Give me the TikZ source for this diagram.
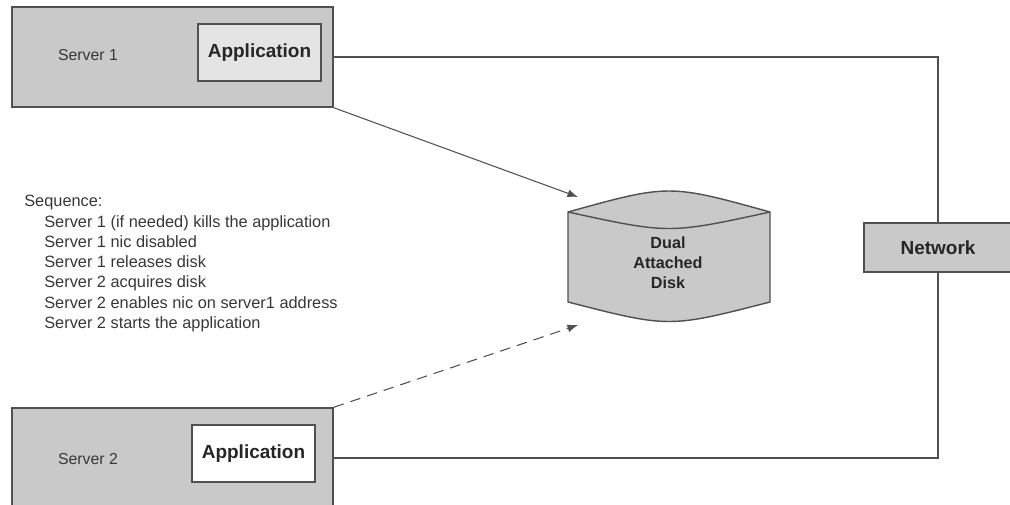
\documentclass[tikz,border=0pt]{standalone}
\usepackage{fontspec}
\setmainfont{Liberation Sans}
\usepackage{xcolor}
\usetikzlibrary{arrows.meta}
\definecolor{boxgray}{RGB}{201,201,201}
\definecolor{appgray}{RGB}{228,228,228}
\definecolor{linegray}{RGB}{80,80,80}
\definecolor{textgray}{RGB}{55,55,55}

\begin{document}
\begin{tikzpicture}[x=0.02cm, y=-0.02cm,
    server/.style={draw=linegray, line width=0.8pt, fill=boxgray, inner sep=0,
        minimum width=6.42cm, minimum height=2cm},
    appbox/.style={draw=linegray, line width=0.8pt, inner sep=0,
        minimum width=2.46cm, minimum height=1.14cm,
        font=\bfseries\fontsize{10.8}{13}\selectfont, text=black!85},
    label/.style={font=\fontsize{9}{11}\selectfont, text=textgray, inner sep=0},
    link/.style={draw=linegray, line width=0.6pt},
    tip/.style={-{Latex[length=6pt, width=4.5pt]}}]
    \useasboundingbox (0,0) rectangle (1010,504);
    \node[server] (s1) at (172.5,57) {};
    \node[appbox, fill=appgray] (app1) at (259.5,52.5) {Application};
    \node[label] (s1label) at (88,55) {Server 1};
    \node[server] (s2) at (172.5,458) {};
    \node[appbox, fill=white] (app2) at (253.5,453.5) {Application};
    \node[label] (s2label) at (88,459) {Server 2};
    \node[draw=linegray, line width=0.8pt, fill=boxgray, inner sep=0,
        minimum width=2.96cm, minimum height=0.98cm,
        font=\bfseries\fontsize{10.8}{13}\selectfont, text=black!85] (net) at (938,247.5) {Network};
    \draw[link] (s1.east) -| (net.north);
    \draw[link] (s2.east) -| (net.south);
    \filldraw[draw=linegray, line width=0.8pt, fill=boxgray]
        (568,212) -- (568,302) .. controls (669,328) .. (770,302) -- (770,212)
        .. controls (669,184) .. (568,212) -- cycle;
    \draw[draw=linegray, line width=0.8pt] (568,212) .. controls (669,234) .. (770,212);
    \node[align=center, inner sep=0, font=\bfseries\fontsize{9.2}{11.4}\selectfont,
        text=black!85] (disk) at (668,263) {Dual\\Attached\\Disk};
    \coordinate (hit1) at (578,197);
    \coordinate (hit2) at (578,325);
    \draw[link, tip] (s1.south east) -- (hit1);
    \draw[link, tip, dash pattern=on 6pt off 4pt] (s2.north east) -- (hit2);
    \node[anchor=north west, align=left, inner sep=0, text=textgray,
        font=\fontsize{9.3}{11.55}\selectfont] (seq) at (24,195)
        {Sequence:\\
        \hspace*{0.4cm}Server 1 (if needed) kills the application\\
        \hspace*{0.4cm}Server 1 nic disabled\\
        \hspace*{0.4cm}Server 1 releases disk\\
        \hspace*{0.4cm}Server 2 acquires disk\\
        \hspace*{0.4cm}Server 2 enables nic on server1 address\\
        \hspace*{0.4cm}Server 2 starts the application};
\end{tikzpicture}
\end{document}
